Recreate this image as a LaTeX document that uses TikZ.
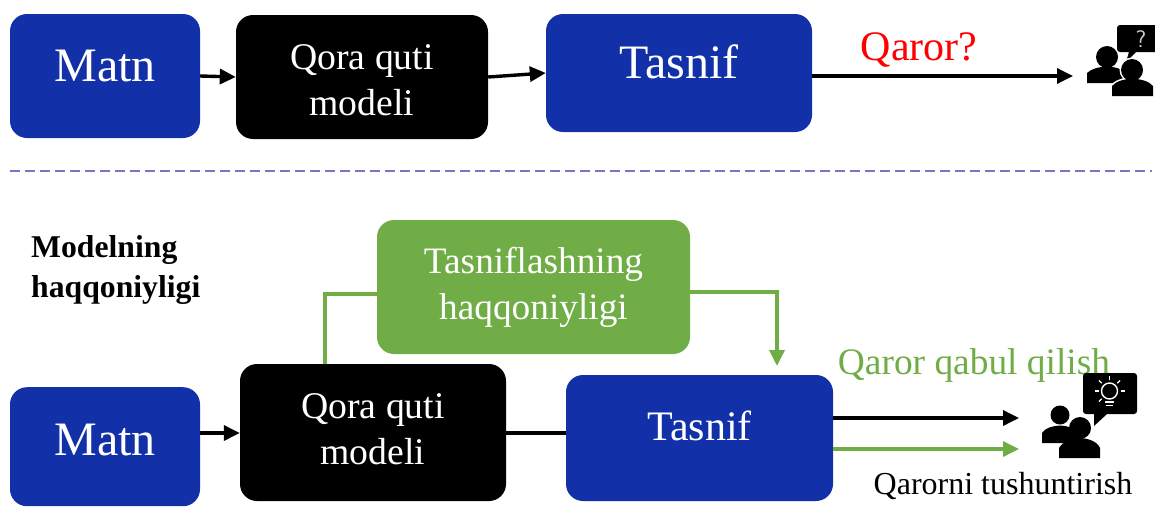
\documentclass[tikz,border=0pt]{standalone}
\usepackage{fontspec}
\setmainfont{Liberation Serif}
\usetikzlibrary{arrows.meta,calc}
\definecolor{boxblue}{HTML}{1231A8}
\definecolor{boxgreen}{HTML}{70AD47}
\definecolor{dashblue}{HTML}{7378C4}
\newcommand{\shiftup}[2]{\raisebox{#1}[\height][\depth]{#2}}
\newcommand{\twolines}[2]{\begin{tabular}{@{}c@{}}#1\\#2\end{tabular}}
\tikzset{
  x=1pt,y=-1pt,
  block/.style={rounded corners=17pt,inner sep=0pt,align=center,text=white},
  bluebox/.style={block,fill=boxblue,font=\fontsize{48}{52}\selectfont},
  blackbox/.style={block,fill=black,font=\fontsize{37.7}{46}\selectfont},
  greenbox/.style={block,fill=boxgreen,font=\fontsize{37.3}{46}\selectfont},
  link/.style={line width=3.4pt,-{Triangle[length=16pt,width=15pt]}},
  plain/.style={line width=3.4pt},
  greenlink/.style={line width=3.4pt,draw=boxgreen,-{Triangle[length=16pt,width=15pt]}},
  greenplain/.style={line width=3.4pt,draw=boxgreen},
  icon/.style={fill=black},
}
\begin{document}
\begin{tikzpicture}
\useasboundingbox (0,0) rectangle (1155,506);
% top row
\node[bluebox,minimum width=190pt,minimum height=124pt] (m1) at (105,76) {\shiftup{10pt}{Matn}};
\node[blackbox,minimum width=252pt,minimum height=124pt] (q1) at (362,77) {\shiftup{-6pt}{\twolines{Qora quti}{modeli}}};
\node[bluebox,minimum width=266pt,minimum height=118pt] (t1) at (679,73) {\shiftup{11pt}{Tasnif}};
\node[text=red,font=\fontsize{42}{44}\selectfont,inner sep=0pt] (qq) at (919,50) {Qaror?};
\coordinate (u1) at (1073,76);
\draw[link] (m1.east) -- (q1.west);
\draw[link] (q1.east) -- (t1.west);
\draw[link] (t1.east |- u1) -- (u1);
% divider
\coordinate (d1) at (10,171);
\coordinate (d2) at (1152,171);
\draw[dashblue,line width=1.3pt,dash pattern=on 10pt off 5pt] (d1) -- (d2);
% bottom
\node[font=\bfseries\fontsize{31.7}{40}\selectfont,align=left,inner sep=0pt,anchor=west] (h) at (31,270) {Modelning\\haqqoniyligi};
\node[greenbox,minimum width=313pt,minimum height=134pt] (g) at (533.5,287) {\twolines{Tasniflashning}{haqqoniyligi}};
\node[bluebox,minimum width=190pt,minimum height=119pt,anchor=north] (m2) at (105,387) {\shiftup{7pt}{Matn}};
\node[blackbox,minimum width=266pt,minimum height=137pt] (q2) at (373,432.5) {\shiftup{0.5pt}{\twolines{Qora quti}{modeli}}};
\node[bluebox,minimum width=267pt,minimum height=126pt,font=\fontsize{42}{46}\selectfont] (t2) at (699.5,438) {\shiftup{12pt}{Tasnif}};
\node[text=boxgreen,font=\fontsize{37.4}{40}\selectfont,inner sep=0pt] (qq2) at (974,365.5) {Qaror qabul qilish};
\node[font=\fontsize{32}{36}\selectfont,inner sep=0pt] (qt) at (1003,486) {Qarorni tushuntirish};
\coordinate (u2) at (1019,418);
\coordinate (u3) at (1019,449);
\coordinate (gt) at (777,366);
\coordinate (qg) at (325,364);
\draw[link] (m2.east |- 0,433) -- (q2.west |- 0,433);
\draw[plain] (q2.east |- 0,433) -- (t2.west |- 0,433);
\draw[link] (t2.east |- u2) -- (u2);
\draw[greenlink] (t2.east |- u3) -- (u3);
\draw[greenplain] (qg) |- ($(g.west)+(0,7)$);
\draw[greenlink] ($(g.east)+(0,5)$) -| (gt);
% icon 1
\fill[icon] (1117,28) arc[start angle=180,end angle=270,radius=3] -- (1155,25) -- (1155,52) -- (1136,52) -- (1126,62) -- (1129,52) -- (1120,52) arc[start angle=90,end angle=180,radius=3] -- cycle;
\node[text=white!80!black,font=\fontsize{24}{24}\sffamily\selectfont,inner sep=0pt] (qm) at (1141,39) {?};
\fill[icon] (1107,57) circle[radius=11];
\fill[icon] (1087,83) -- (1087,73) .. controls (1091,69) and (1098,67) .. (1107,66.5) .. controls (1116,67) and (1122,69) .. (1126,73) -- (1126,83) -- cycle;
\fill[white] (1132,70) circle[radius=12.5];
\fill[white] (1110,96) -- (1110,86) .. controls (1114,80) and (1125,77) .. (1132,77) .. controls (1140,77) and (1151,80) .. (1155,86) -- (1155,96) -- cycle;
\fill[icon] (1132,70) circle[radius=11];
\fill[icon] (1112,96) -- (1112,86) .. controls (1116,81) and (1125,79) .. (1132,78.5) .. controls (1140,79) and (1149,81) .. (1153,86) -- (1153,96) -- cycle;
% icon 2
\fill[icon] (1083,376) arc[start angle=180,end angle=270,radius=3] -- (1134,373) arc[start angle=270,end angle=360,radius=3] -- (1137,411) arc[start angle=0,end angle=90,radius=3] -- (1107,414) -- (1094,426) -- (1094,414) -- (1086,414) arc[start angle=90,end angle=180,radius=3] -- cycle;
\begin{scope}[white,line width=1pt]
\draw[line width=1.4pt] (1109.5,391) circle[radius=8];
\draw[line width=1.5pt] (1105,402) -- (1114,402);
\draw[line width=1.5pt] (1106,405.5) -- (1113,405.5);
\foreach \a in {0,45,90,135,180,-45}{
  \draw[line width=1.2pt] (1109.5,391) ++({\a+180}:11) -- ++({\a+180}:4);
}
\end{scope}
\fill[icon] (1060,415) circle[radius=9.5];
\fill[icon] (1042,443) -- (1042,433) .. controls (1045,428) and (1052,426) .. (1060,425.5) .. controls (1068,426) and (1075,428) .. (1078,433) -- (1078,443) -- cycle;
\fill[icon] (1080,428) circle[radius=11];
\fill[icon] (1059,458) -- (1059,448) .. controls (1063,441) and (1072,438.5) .. (1080,438) .. controls (1088,438.5) and (1097,441) .. (1100,448) -- (1100,458) -- cycle;
\end{tikzpicture}
\end{document}
